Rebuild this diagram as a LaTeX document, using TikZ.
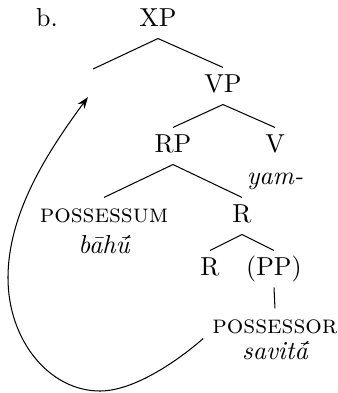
\documentclass[tikz,border=0pt]{standalone}
\usepackage{fontspec}
\usetikzlibrary{arrows.meta}
\begin{document}
\begin{tikzpicture}[x=0.385pt,y=-0.385pt,
  lab/.style={anchor=base, inner xsep=3.33pt, inner ysep=2.2pt, text height=7.05pt, text depth=2.42pt},
  gloss/.style={anchor=base, inner sep=0pt, font=\itshape},
  branch/.style={line width=0.4pt},
  movearrow/.style={line width=0.4pt, -{Stealth[length=4.5pt,width=3.2pt]}}]
\useasboundingbox (0,0) rectangle (338,393);
\node[anchor=base, inner sep=0pt] (ex) at (47,26) {b.};
\node[lab] (xp) at (158,26) {XP};
\coordinate (gap) at (93,69);
\node[lab] (vp) at (223,92) {VP};
\node[lab] (rp) at (173,152) {RP};
\node[lab] (v) at (275,152) {V};
\node[gloss] (yam) at (275,184) {yam-};
\node[lab] (possessum) at (104,222) {\textsc{possessum}};
\node[gloss] (bahu) at (104,253) {b\=ah\'{\=u}};
\node[lab] (r1) at (242,222) {R};
\node[lab] (r2) at (210,275) {R};
\node[lab] (pp) at (274,275) {(PP)};
\node[lab] (possessor) at (275,333) {\textsc{possessor}};
\node[gloss] (savita) at (275,359) {savit\'{\=a}};
\draw[branch] (xp.south) -- (gap);
\draw[branch] (xp.south) -- (vp.north);
\draw[branch] (vp.south) -- (rp.north);
\draw[branch] (vp.south) -- (v.north);
\draw[branch] (rp.south) -- (possessum.north);
\draw[branch] (rp.south) -- (r1.north);
\draw[branch] (r1.south) -- (r2.north);
\draw[branch] (r1.south) -- (pp.north);
\draw[branch] (pp.south) -- (possessor.north);
\coordinate (bend1) at (100,391);
\coordinate (bend2) at (8,278);
\coordinate (landing) at (88,97);
\draw[movearrow] ([yshift=2.7pt]possessor.south west) .. controls (180,359) and (135,391) .. (bend1)
  .. controls (49,391) and (8,340) .. (bend2)
  .. controls (8,212) and (49,150) .. (landing);
\end{tikzpicture}
\end{document}
